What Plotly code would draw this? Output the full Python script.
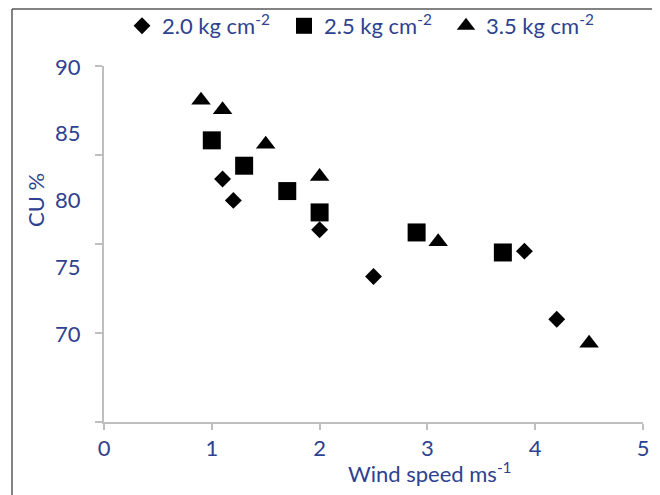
import plotly.graph_objects as go

# Wind speed (m/s) and CU (%) per operating pressure
x_20 = [1.1, 1.2, 2.0, 2.5, 3.9, 4.2]
y_20 = [81.6, 80.0, 77.8, 74.3, 76.2, 71.1]

x_25 = [1.0, 1.3, 1.7, 2.0, 2.9, 3.7]
y_25 = [84.5, 82.6, 80.7, 79.1, 77.6, 76.1]

x_35 = [0.9, 1.1, 1.5, 2.0, 3.1, 4.5]
y_35 = [87.5, 86.8, 84.2, 81.8, 76.9, 69.3]

names = ["2.0 kg cm<sup>-2</sup>", "2.5 kg cm<sup>-2</sup>", "3.5 kg cm<sup>-2</sup>"]
x_title = "Wind speed ms<sup>-1</sup>"
y_title = "CU %"
y_ticks = [70, 75, 80, 85, 90]
x_ticks = [0, 1, 2, 3, 4, 5]
y_range = [63.4, 90.07]
y_marks = [63.4, 70.07, 76.73, 83.4, 90.07]

TXT = "#2E4290"
AX = "#BFBFBF"
FONT = "Lato"
FS = 22

fig = go.Figure()
fig.add_trace(go.Scatter(x=x_20, y=y_20, mode="markers", name=names[0],
                         marker=dict(symbol="diamond", size=13, color="black")))
fig.add_trace(go.Scatter(x=x_25, y=y_25, mode="markers", name=names[1],
                         marker=dict(symbol="square", size=18, color="black")))
fig.add_trace(go.Scatter(x=x_35, y=y_35, mode="markers", name=names[2],
                         marker=dict(symbol="triangle-up", size=17, color="black")))

fig.update_layout(
    width=652, height=487,
    margin=dict(l=96, r=17, t=58, b=73, autoexpand=False),
    paper_bgcolor="white", plot_bgcolor="white",
    font=dict(family=FONT, size=FS, color=TXT),
    showlegend=True,
    legend=dict(orientation="h", x=0.0334, y=1.1124, xanchor="left", yanchor="middle",
                font=dict(family=FONT, size=FS, color=TXT),
                bgcolor="rgba(0,0,0,0)", itemwidth=30, entrywidth=117, tracegroupgap=0),
    xaxis=dict(range=[0, 5], tickvals=x_ticks, ticks="outside", ticklen=6,
               tickcolor=AX, tickwidth=1.5, showline=True, linecolor=AX, linewidth=2,
               showgrid=False, zeroline=False, automargin=False,
               tickfont=dict(size=FS, color=TXT)),
    yaxis=dict(range=y_range, tickvals=y_ticks, ticks="", showline=True, linecolor=AX,
               linewidth=2, showgrid=False, zeroline=False, ticklabelstandoff=17,
               automargin=False,
               minor=dict(tickmode="array", tickvals=y_marks, ticks="outside", ticklen=7,
                          tickcolor=AX, tickwidth=1.5, showgrid=False),
               tickfont=dict(size=FS, color=TXT)),
)

# axis titles (placed off-centre as in the reference)
fig.add_annotation(text=x_title, xref="paper", yref="paper", x=0.605, y=-0.142,
                   xanchor="center", yanchor="middle", showarrow=False,
                   font=dict(family=FONT, size=FS, color=TXT))
fig.add_annotation(text=y_title, xref="paper", yref="paper", x=-0.126, y=0.624,
                   xanchor="center", yanchor="middle", showarrow=False, textangle=-90,
                   font=dict(family=FONT, size=FS, color=TXT))

# outer frame (left and top edges)
fig.add_shape(type="line", xref="paper", yref="paper", x0=-0.1707, x1=-0.1707, y0=-0.3, y1=1.160,
              line=dict(color="#595959", width=1.5))
fig.add_shape(type="line", xref="paper", yref="paper", x0=-0.1707, x1=1.05, y0=1.160, y1=1.160,
              line=dict(color="#595959", width=1.5))

fig.write_html("out.html")
